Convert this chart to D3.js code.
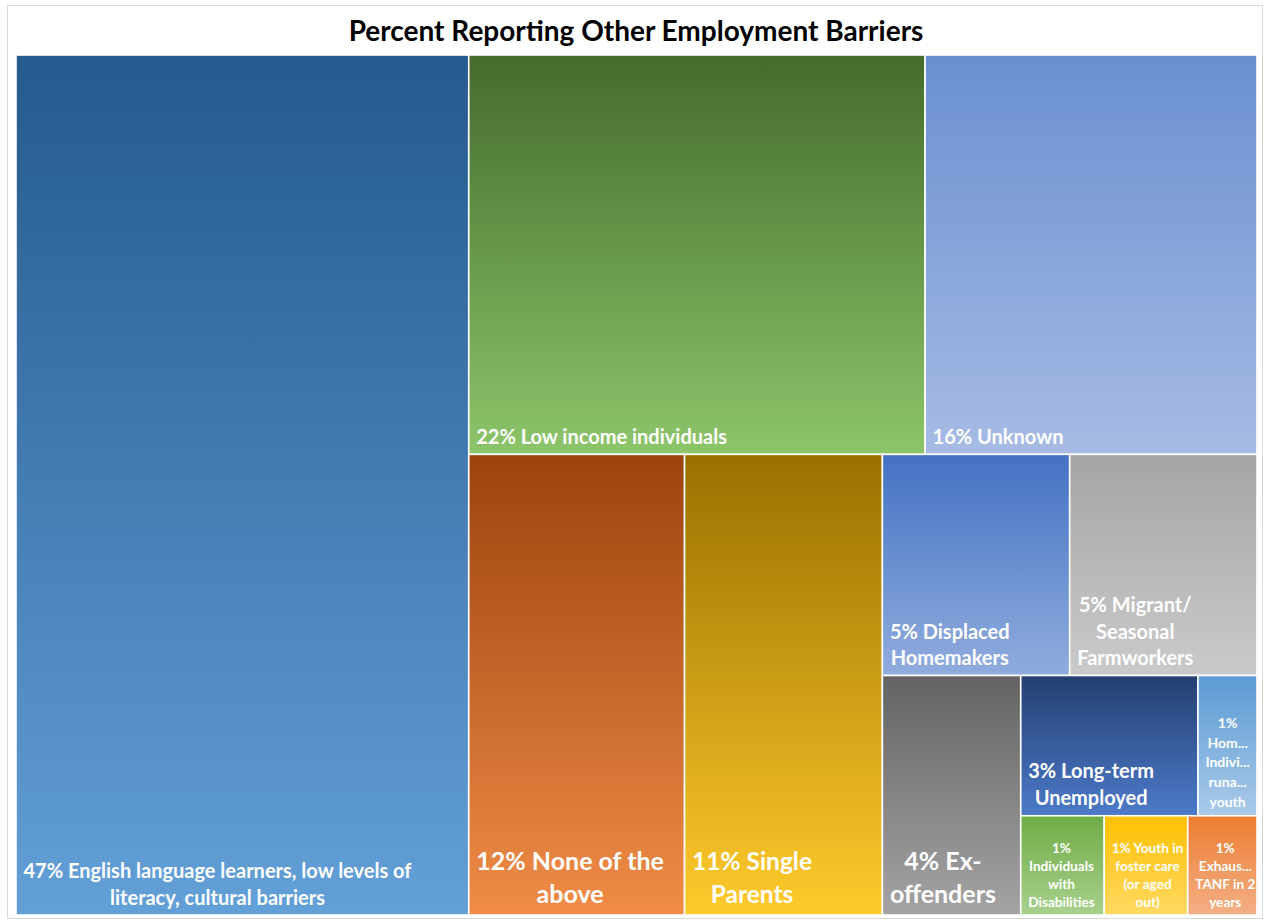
<!DOCTYPE html>
<html>
<head>
<meta charset="utf-8">
<script src="https://cdn.jsdelivr.net/npm/d3@7"></script>
<style>
  html, body { margin: 0; padding: 0; background: #fff; }
  svg { display: block; }
  text { font-family: Lato, "Open Sans", sans-serif; font-weight: 700; }
</style>
</head>
<body>
<svg id="chart" width="1265" height="920"></svg>
<script>
// ---- data ----
const title = "Percent Reporting Other Employment Barriers";
const categories = [
  "English language learners, low levels of literacy, cultural barriers",
  "Low income individuals",
  "Unknown",
  "None of the above",
  "Single Parents",
  "Displaced Homemakers",
  "Migrant/ Seasonal Farmworkers",
  "Ex-offenders",
  "Long-term Unemployed",
  "Homeless Individuals, runaway youth",
  "Individuals with Disabilities",
  "Youth in foster care (or aged out)",
  "Exhausting TANF in 2 years"
];
// percentages (the last one is shown rounded as 1%, its area is smaller)
const values = [47, 22, 16, 12, 11, 5, 5, 4, 3, 1, 1, 1, 0.83];
// displayed (wrapped / truncated) label text
const labelLines = [
  ["47% English language learners, low levels of", "literacy, cultural barriers"],
  ["22% Low income individuals"],
  ["16% Unknown"],
  ["12% None of the", "above"],
  ["11% Single", "Parents"],
  ["5% Displaced", "Homemakers"],
  ["5% Migrant/", "Seasonal", "Farmworkers"],
  ["4% Ex-", "offenders"],
  ["3% Long-term", "Unemployed"],
  ["1%", "Hom...", "Indivi...", "runa...", "youth"],
  ["1%", "Individuals", "with", "Disabilities"],
  ["1% Youth in", "foster care", "(or aged", "out)"],
  ["1%", "Exhaus...", "TANF in 2", "years"]
];

// ---- styles ----
const topColors = ["#245a8d", "#456b2c", "#6a8fd1", "#9c430d", "#9a7000", "#4472c4", "#a5a5a5",
                   "#636363", "#243f70", "#5b9ad4", "#6fac46", "#ffc000", "#ed7d31"];
const bottomColors = ["#63a0d8", "#8cc56a", "#a7bbe4", "#f08c47", "#ffca2c", "#90acdd", "#cacaca",
                      "#a4a4a4", "#4c7ac9", "#a9cae9", "#a8d18d", "#ffd963", "#f4af85"];
const fontSizes = [20, 20, 20, 25, 24.5, 20, 20, 25, 20, 14, 13.6, 13.6, 13.6];
const lineHeights = [26.5, 26, 26, 33, 33, 26.5, 26.5, 33, 27, 19.7, 18, 18, 18];

const svg = d3.select("#chart");
const plot = { x: 16, y: 55, w: 1241, h: 860 };

// outer chart border
svg.append("rect").attr("x", 7.5).attr("y", 5.5).attr("width", 1255).attr("height", 913)
  .attr("fill", "#fff").attr("stroke", "#d9d9d9").attr("stroke-width", 1);

svg.append("text").attr("x", 636).attr("y", 41).attr("text-anchor", "middle")
  .attr("font-size", 28).attr("fill", "#000").text(title);

// Excel-like strip tiling: each strip goes on the short side of the remaining
// region; the items of a strip are laid along the strip's longer side.
const STRIPS = [1, 2, 1, 1, 2, 1, 2, 3];
function excelTile(parent, x0, y0, x1, y1) {
  const nodes = parent.children;
  let remaining = parent.value, idx = 0, s = 0;
  while (idx < nodes.length) {
    const n = s < STRIPS.length ? STRIPS[s] : nodes.length - idx;
    const group = nodes.slice(idx, idx + n);
    const gv = d3.sum(group, d => d.value);
    const frac = remaining ? gv / remaining : 0;
    let sx0, sy0, sx1, sy1;
    if ((x1 - x0) >= (y1 - y0)) {
      sx0 = x0; sx1 = x0 + (x1 - x0) * frac; sy0 = y0; sy1 = y1; x0 = sx1;
    } else {
      sx0 = x0; sx1 = x1; sy0 = y0; sy1 = y0 + (y1 - y0) * frac; y0 = sy1;
    }
    const fake = { children: group, value: gv };
    if ((sx1 - sx0) >= (sy1 - sy0)) d3.treemapDice(fake, sx0, sy0, sx1, sy1);
    else d3.treemapSlice(fake, sx0, sy0, sx1, sy1);
    remaining -= gv; idx += n; s++;
  }
}

const rootData = { name: "root", children: categories.map((c, i) => ({ name: c, value: values[i], i })) };
const root = d3.hierarchy(rootData).sum(d => d.children ? 0 : d.value);
d3.treemap().tile(excelTile).size([plot.w, plot.h]).round(false)(root);

const defs = svg.append("defs");
root.leaves().forEach(d => {
  const g = defs.append("linearGradient").attr("id", "grad" + d.data.i)
    .attr("x1", 0).attr("y1", 0).attr("x2", 0).attr("y2", 1);
  g.append("stop").attr("offset", "0%").attr("stop-color", topColors[d.data.i]);
  g.append("stop").attr("offset", "100%").attr("stop-color", bottomColors[d.data.i]);
});

const gPlot = svg.append("g").attr("transform", `translate(${plot.x},${plot.y})`);
const cells = gPlot.selectAll("g.cell").data(root.leaves()).join("g").attr("class", "cell");

cells.append("rect")
  .attr("x", d => d.x0).attr("y", d => d.y0)
  .attr("width", d => d.x1 - d.x0).attr("height", d => d.y1 - d.y0)
  .attr("fill", d => `url(#grad${d.data.i})`)
  .attr("stroke", "#ffffff").attr("stroke-width", 1.6);

cells.each(function (d) {
  const i = d.data.i;
  const lines = labelLines[i];
  const fs = fontSizes[i], lh = lineHeights[i];
  const t = d3.select(this).append("text")
    .attr("font-size", fs).attr("fill", "#ffffff").attr("text-anchor", "middle");
  const lastCenter = d.y1 - (lh / 2 + 4);
  const tspans = lines.map((ln, k) => t.append("tspan")
    .attr("y", lastCenter - (lines.length - 1 - k) * lh)
    .attr("dy", "0.35em").text(ln));
  const maxW = d3.max(tspans, ts => ts.node().getComputedTextLength());
  const pad = 7.5;
  const cx = d.x0 + pad + maxW / 2;
  tspans.forEach(ts => ts.attr("x", cx));
});
</script>
</body>
</html>
